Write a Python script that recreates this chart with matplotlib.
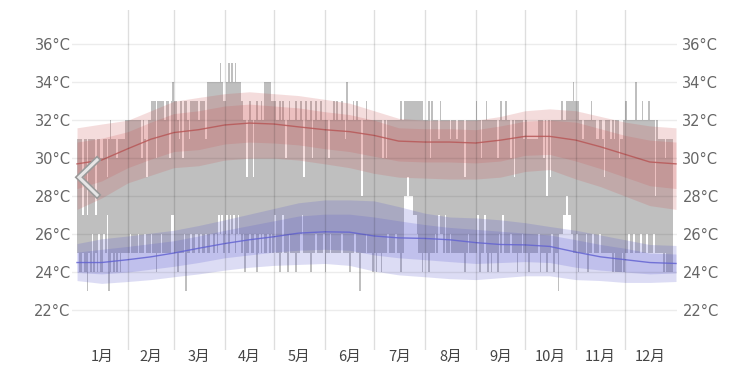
import numpy as np
import matplotlib
matplotlib.use("Agg")
import matplotlib.pyplot as plt
import matplotlib.transforms as mtrans

# -------------------------
# data
# -------------------------
months = ["1月", "2月", "3月", "4月", "5月", "6月", "7月", "8月", "9月", "10月", "11月", "12月"]
month_days = [31, 28, 31, 30, 31, 30, 31, 31, 30, 31, 30, 31]

# daily observed highs / lows (°C), month by month
hi_jan = [31,31,31,27,31,31,27,31,31,31,31,27,31,31,30,30,31,31,29,31,32,31,31,31,30,31,31,31,31,32,32]
lo_jan = [25,24,24,25,24,24,23,25,24,26,24,25,24,26,24,24,26,25,27,23,24,25,24,25,24,25,24,25,25,25,25]
hi_feb = [32,32,32,32,32,32,32,32,30,32,31,29,32,32,33,33,33,30,33,33,33,33,32,33,33,30,33,34]
lo_feb = [25,26,25,25,25,25,26,25,25,25,26,25,25,25,26,25,25,24,25,25,26,25,25,25,25,25,27,27]
hi_mar = [33,33,32,31,33,30,33,33,32,31,33,33,33,33,33,32,33,33,33,31,34,34,34,34,34,34,34,34,35,34,33]
lo_mar = [25,25,24,25,25,25,26,23,25,25,26,25,25,26,26,25,26,25,25,26,25,25,26,26,25,26,25,27,26,27,25]
hi_apr = [33,34,35,34,35,34,35,34,34,34,33,32,32,29,32,33,32,29,32,33,32,32,33,32,34,34,34,34,33,33]
lo_apr = [26,27,25,27,26,27,25,26,27,26,25,26,24,25,25,26,25,25,26,24,25,26,25,26,25,25,26,25,26,25]
hi_may = [33,32,32,33,32,33,32,30,32,33,32,32,32,33,32,32,33,32,29,33,32,32,33,30,32,33,32,32,33,32,32]
lo_may = [27,25,25,24,25,27,25,25,24,26,25,25,25,24,25,25,26,27,25,25,25,25,24,25,25,26,25,25,25,25,26]
hi_jun = [32,32,30,32,32,33,32,33,32,32,33,32,31,34,32,32,32,33,32,33,32,32,28,32,32,33,32,32,32,32]
lo_jun = [24,25,25,26,25,25,25,25,25,25,26,25,25,25,25,24,25,25,26,25,25,23,25,25,25,26,25,25,25,24]
hi_jul = [32,32,32,32,32,30,32,30,32,32,32,32,32,32,32,32,33,32,33,33,33,33,33,33,33,33,33,33,33,33,32]
lo_jul = [25,24,25,25,24,25,25,25,26,25,25,25,25,26,25,25,24,25,28,28,29,28,28,28,27,27,26,25,25,24,25]
hi_aug = [32,32,33,30,33,32,32,32,31,33,32,32,32,32,32,31,32,32,32,31,32,32,32,32,29,32,32,32,32,32,32]
lo_aug = [25,25,24,25,25,25,26,25,27,26,26,25,27,25,25,26,25,25,25,25,25,25,25,25,24,25,26,25,25,25,25]
hi_sep = [33,32,32,30,32,32,33,32,32,32,32,32,32,30,32,33,32,32,33,32,32,30,32,29,32,32,32,32,32,31]
lo_sep = [25,27,24,25,25,27,25,24,25,24,25,25,25,24,26,25,27,25,25,25,25,26,25,25,25,24,25,25,26,25]
hi_oct = [32,31,31,31,31,31,31,31,32,32,32,30,32,28,32,29,32,32,32,32,32,32,33,32,32,33,33,33,33,34,33]
lo_oct = [25,25,24,25,25,25,25,25,26,24,25,25,25,24,25,25,26,24,25,25,23,26,26,27,27,28,27,27,26,25,25]
hi_nov = [33,33,32,32,31,32,32,32,32,33,32,32,31,31,32,32,31,29,32,32,32,31,32,31,32,32,30,31,31,32]
lo_nov = [26,24,25,25,25,25,26,24,25,25,26,25,25,25,26,25,25,25,25,25,25,25,24,25,24,24,24,24,25,24]
hi_dec = [33,32,32,32,32,32,34,32,32,32,33,32,32,32,33,32,32,32,28,32,31,31,31,31,30,31,31,31,31,None,None]
lo_dec = [25,25,26,25,25,26,25,25,25,26,25,25,25,26,25,25,25,26,25,25,25,25,25,24,25,24,24,24,24,None,None]

# climatology bands, sampled twice a month (day of year)
band_days = [0, 15, 31, 45, 59, 74, 90, 105, 120, 135, 151, 166, 181, 196,
             212, 227, 243, 258, 273, 288, 304, 319, 334, 349, 365]
high_p90 = [31.6, 31.8, 32.0, 32.5, 33.0, 33.2, 33.4, 33.5, 33.4, 33.3, 33.1, 32.9, 32.5,
            32.1, 32.0, 32.0, 32.0, 32.2, 32.5, 32.6, 32.5, 32.2, 31.9, 31.7, 31.6]
high_p75 = [30.85, 31.05, 31.4, 31.9, 32.35, 32.5, 32.75, 32.85, 32.75, 32.65, 32.45, 32.3, 32.0,
            31.6, 31.55, 31.55, 31.5, 31.7, 31.95, 32.0, 31.9, 31.55, 31.2, 30.95, 30.85]
high_avg = [29.7, 29.9, 30.5, 31.0, 31.35, 31.5, 31.75, 31.85, 31.8, 31.65, 31.5, 31.4, 31.2,
            30.9, 30.85, 30.85, 30.8, 30.95, 31.15, 31.15, 30.95, 30.6, 30.2, 29.8, 29.7]
high_p25 = [28.4, 28.8, 29.5, 29.95, 30.35, 30.45, 30.75, 30.85, 30.8, 30.7, 30.5, 30.35, 30.1,
            29.85, 29.8, 29.8, 29.75, 29.85, 30.15, 30.2, 29.85, 29.45, 29.0, 28.55, 28.4]
high_p10 = [27.3, 27.9, 28.7, 29.1, 29.5, 29.6, 29.9, 30.0, 30.0, 29.9, 29.7, 29.5, 29.2,
            29.0, 28.95, 28.9, 28.9, 29.0, 29.3, 29.4, 28.9, 28.5, 28.0, 27.5, 27.3]

low_p90 = [25.5, 25.75, 25.9, 26.05, 26.2, 26.45, 26.75, 27.05, 27.35, 27.65, 27.8, 27.8, 27.75,
           27.45, 27.1, 26.9, 26.85, 26.75, 26.6, 26.4, 26.2, 25.95, 25.7, 25.45, 25.4]
low_p75 = [25.05, 25.2, 25.35, 25.5, 25.65, 25.9, 26.2, 26.45, 26.7, 26.95, 27.05, 27.05, 26.9,
           26.7, 26.5, 26.35, 26.25, 26.15, 26.05, 25.95, 25.7, 25.45, 25.25, 25.0, 24.95]
low_avg = [24.5, 24.5, 24.65, 24.8, 25.0, 25.25, 25.5, 25.7, 25.86, 26.05, 26.12, 26.1, 25.9,
           25.8, 25.77, 25.7, 25.55, 25.45, 25.43, 25.35, 25.05, 24.8, 24.65, 24.5, 24.45]
low_p25 = [23.98, 23.9, 24.0, 24.15, 24.3, 24.5, 24.75, 24.9, 25.05, 25.15, 25.2, 25.15, 24.9,
           24.75, 24.65, 24.55, 24.45, 24.5, 24.55, 24.5, 24.25, 24.1, 24.0, 23.9, 23.95]
low_p10 = [23.55, 23.4, 23.5, 23.6, 23.75, 23.9, 24.1, 24.25, 24.35, 24.4, 24.45, 24.35, 24.05,
           23.85, 23.75, 23.65, 23.6, 23.7, 23.8, 23.8, 23.6, 23.55, 23.45, 23.45, 23.5]

y_ticks = [22, 24, 26, 28, 30, 32, 34, 36]

# -------------------------
# assemble daily series
# -------------------------
highs = np.array(hi_jan + hi_feb + hi_mar + hi_apr + hi_may + hi_jun +
                 hi_jul + hi_aug + hi_sep + hi_oct + hi_nov + hi_dec, dtype=float)
lows = np.array(lo_jan + lo_feb + lo_mar + lo_apr + lo_may + lo_jun +
                lo_jul + lo_aug + lo_sep + lo_oct + lo_nov + lo_dec, dtype=float)
days = np.arange(len(highs)) + 0.5
month_start = np.concatenate([[0], np.cumsum(month_days)])
month_mid = month_start[:-1] + np.array(month_days) / 2

# -------------------------
# plot
# -------------------------
fig = plt.figure(figsize=(7.53, 3.67), dpi=100)
ax = fig.add_axes([72 / 753, 17 / 367, 605 / 753, 340 / 367])

ax.bar(days, highs - lows, bottom=lows, width=1.0, color="#bfbfbf",
       linewidth=0, antialiased=False, zorder=1)

red = (0.80, 0.33, 0.33)
blue = (0.33, 0.33, 0.80)
ax.fill_between(band_days, high_p10, high_p90, color=red, alpha=0.2, lw=0, zorder=2)
ax.fill_between(band_days, high_p25, high_p75, color=red, alpha=0.2, lw=0, zorder=2)
ax.fill_between(band_days, low_p10, low_p90, color=blue, alpha=0.2, lw=0, zorder=2)
ax.fill_between(band_days, low_p25, low_p75, color=blue, alpha=0.2, lw=0, zorder=2)
ax.plot(band_days, high_avg, color="#b85858", lw=1.0, alpha=0.85, zorder=3)
ax.plot(band_days, low_avg, color="#6464d2", lw=1.0, alpha=0.85, zorder=3)

# grid lines
for t in y_ticks:
    ax.axhline(t, color="black", alpha=0.075, lw=1, zorder=4)
for m in month_start[1:-1]:
    ax.axvline(m, color="black", alpha=0.13, lw=1, zorder=4)

# "<" navigation chevron
ax.plot([0.0413, 0.0116, 0.0413], [0.559, 0.508, 0.456], transform=ax.transAxes,
        color="#9a9a9a", lw=4.5, solid_joinstyle="miter", zorder=5)
ax.plot([0.0413, 0.0116, 0.0413], [0.559, 0.508, 0.456], transform=ax.transAxes,
        color="#e6e6e6", lw=2.2, solid_joinstyle="miter", zorder=6)

ax.set_xlim(-3.05, 365.6)
ax.set_ylim(19.89, 37.81)

# y labels on both sides
ax.set_yticks(y_ticks)
ax.set_yticklabels([f"{t}°C" for t in y_ticks])
ax.tick_params(axis="y", length=0, pad=1, labelsize=10.5, labelcolor="#666666",
               labelleft=True, labelright=True)
offset = mtrans.ScaledTranslation(4 / 100, 0, fig.dpi_scale_trans)
for t in ax.yaxis.get_major_ticks():
    t.label1.set_family("DejaVu Sans")
    t.label2.set_family("DejaVu Sans")
    t.label2.set_transform(t.label2.get_transform() + offset)

# month labels
ax.set_xticks(month_mid)
ax.set_xticklabels(months, family=["Noto Sans CJK JP", "DejaVu Sans"], fontsize=10.5,
                   color="#444444")
ax.tick_params(axis="x", length=0, pad=0)

for s in ax.spines.values():
    s.set_visible(False)

fig.savefig("out.png", dpi=100)
